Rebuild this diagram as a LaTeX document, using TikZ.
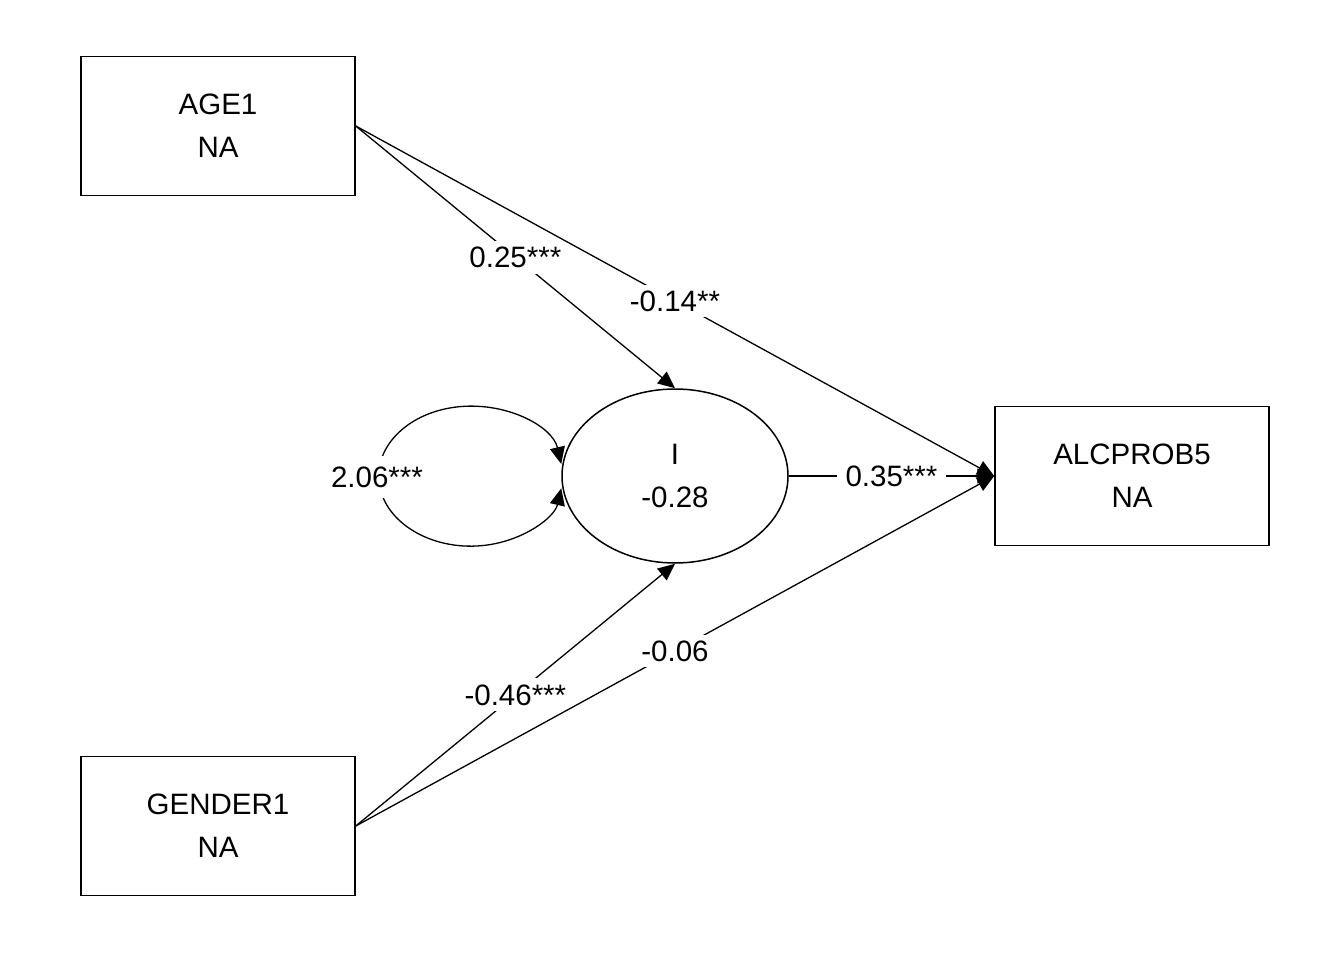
\documentclass[tikz,border=0pt]{standalone}
\usepackage{fontspec}
\setmainfont{Liberation Sans}
\usetikzlibrary{shapes.geometric,arrows.meta}
\begin{document}
\begin{tikzpicture}[x=1pt,y=-1pt,
  font=\fontsize{29.5}{43}\selectfont,
  every node/.style={align=center},
  obs/.style={draw,line width=1.5pt,minimum width=274pt,minimum height=139pt,inner sep=0pt},
  lat/.style={draw,ellipse,line width=1.5pt,minimum width=226pt,minimum height=174pt,inner sep=0pt},
  path/.style={line width=1.3pt,-{Triangle[length=17pt,width=15pt]}},
  lbl/.style={fill=white,inner xsep=9pt,inner ysep=6pt,pos=0.5}]
\useasboundingbox (0,0) rectangle (1344,960);
\node[obs] (age) at (218,126) {AGE1\\NA};
\node[obs] (gen) at (218,826) {GENDER1\\NA};
\node[obs] (alc) at (1132,476) {ALCPROB5\\NA};
\node[lat] (I) at (675,476) {I\\-0.28};
\draw[line width=1.3pt,{Triangle[length=17pt,width=15pt]}-{Triangle[length=17pt,width=15pt]}]
  (I.west) ++(0pt,12pt) coordinate (ls)
  (ls) arc[start angle=10,end angle=350,x radius=92pt,y radius=70pt] coordinate (le);
\node[fill=white,inner xsep=3pt,inner ysep=11pt] (var) at (377,477) {2.06***};
\draw[path] (age.east) -- (I.north) node[lbl] (l1) {0.25***};
\draw[path] (age.east) -- (alc.west) node[lbl] (l2) {-0.14**};
\draw[path] (I.east) -- (alc.west) node[lbl] (l3) {0.35***};
\draw[path] (gen.east) -- (I.south) node[lbl] (l4) {-0.46***};
\draw[path] (gen.east) -- (alc.west) node[lbl] (l5) {-0.06};
\end{tikzpicture}
\end{document}
